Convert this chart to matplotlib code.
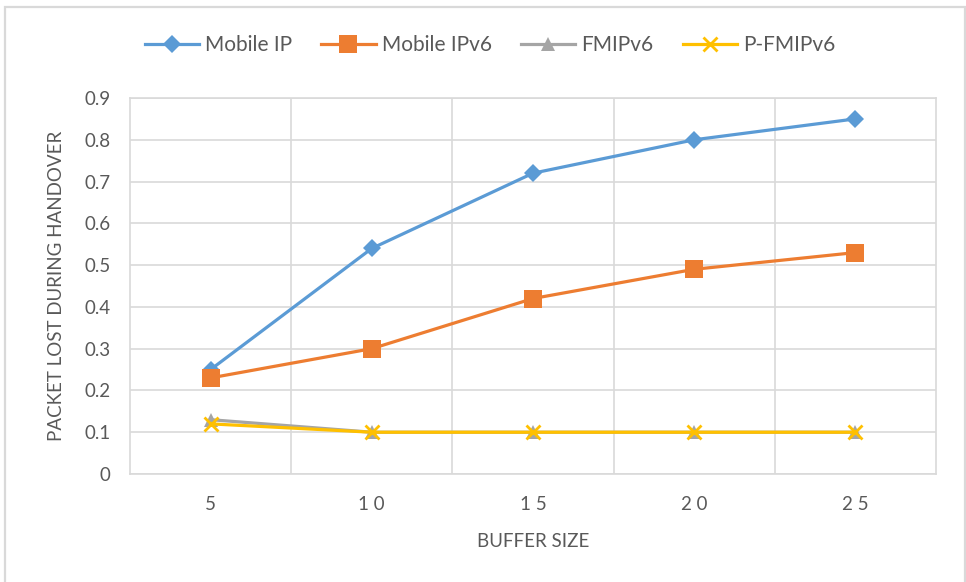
import matplotlib.pyplot as plt
from matplotlib.patches import Rectangle

# data
buffer_size = ["5", "1 0", "1 5", "2 0", "2 5"]
mobile_ip = [0.25, 0.54, 0.72, 0.80, 0.85]
mobile_ipv6 = [0.23, 0.30, 0.42, 0.49, 0.53]
fmipv6 = [0.13, 0.10, 0.10, 0.10, 0.10]
p_fmipv6 = [0.12, 0.10, 0.10, 0.10, 0.10]
y_ticks = [0, 0.1, 0.2, 0.3, 0.4, 0.5, 0.6, 0.7, 0.8, 0.9]

series = [
    ("Mobile IP", mobile_ip, "#5B9BD5", "D", 9.5),
    ("Mobile IPv6", mobile_ipv6, "#ED7D31", "s", 12.5),
    ("FMIPv6", fmipv6, "#A5A5A5", "^", 10),
    ("P-FMIPv6", p_fmipv6, "#FFC000", "x", 10),
]

plt.rcParams['font.family'] = ['Lato', 'DejaVu Sans']
grid_c = "#D9D9D9"
text_c = "#595959"

fig = plt.figure(figsize=(9.66, 5.82), dpi=100)
fig.patches.append(Rectangle((5 / 966, -0.1), 960 / 966, 1.1 - 7 / 582,
                             transform=fig.transFigure, fill=False,
                             edgecolor=grid_c, linewidth=1.6))
ax = fig.add_axes([130 / 966, 108 / 582, 806 / 966, 376 / 582])

x = list(range(len(buffer_size)))
for name, vals, col, mk, ms in series:
    if mk == "x":
        ax.plot(x, vals, color=col, linewidth=2.3, marker=mk, markersize=ms,
                markeredgewidth=2, label=name, zorder=3)
    else:
        ax.plot(x, vals, color=col, linewidth=2.3, marker=mk, markersize=ms,
                markeredgewidth=0, label=name, zorder=3)

ax.set_xlim(-0.5, len(x) - 0.5)
ax.set_ylim(0, 0.9)
ax.set_yticks(y_ticks)
ax.set_yticklabels(["0"] + [f"{v:.1f}" for v in y_ticks[1:]])
ax.set_xticks(x)
ax.set_xticklabels(buffer_size)
ax.set_xticks([i + 0.5 for i in x[:-1]], minor=True)
ax.grid(True, axis='y', color=grid_c, linewidth=1.2)
ax.grid(True, axis='x', which='minor', color=grid_c, linewidth=1.2)
ax.tick_params(which='both', length=0)
ax.tick_params(axis='both', labelsize=13.5, colors=text_c)
ax.tick_params(axis='x', pad=16)
ax.tick_params(axis='y', pad=14)
ax.set_axisbelow(True)
for s in ax.spines.values():
    s.set_color(grid_c)
    s.set_linewidth(1.2)

ax.set_xlabel("BUFFER SIZE", fontsize=13.5, color=text_c, labelpad=14)
ax.set_ylabel("PACKET LOST DURING HANDOVER", fontsize=13.5, color=text_c, labelpad=14)

fig.legend(loc='center', bbox_to_anchor=(490 / 966, 1 - 45 / 582),
           ncol=4, frameon=False, fontsize=15, labelcolor=text_c,
           handlelength=2.6, handletextpad=0.3, columnspacing=1.4)

fig.savefig("out.png", dpi=100)
